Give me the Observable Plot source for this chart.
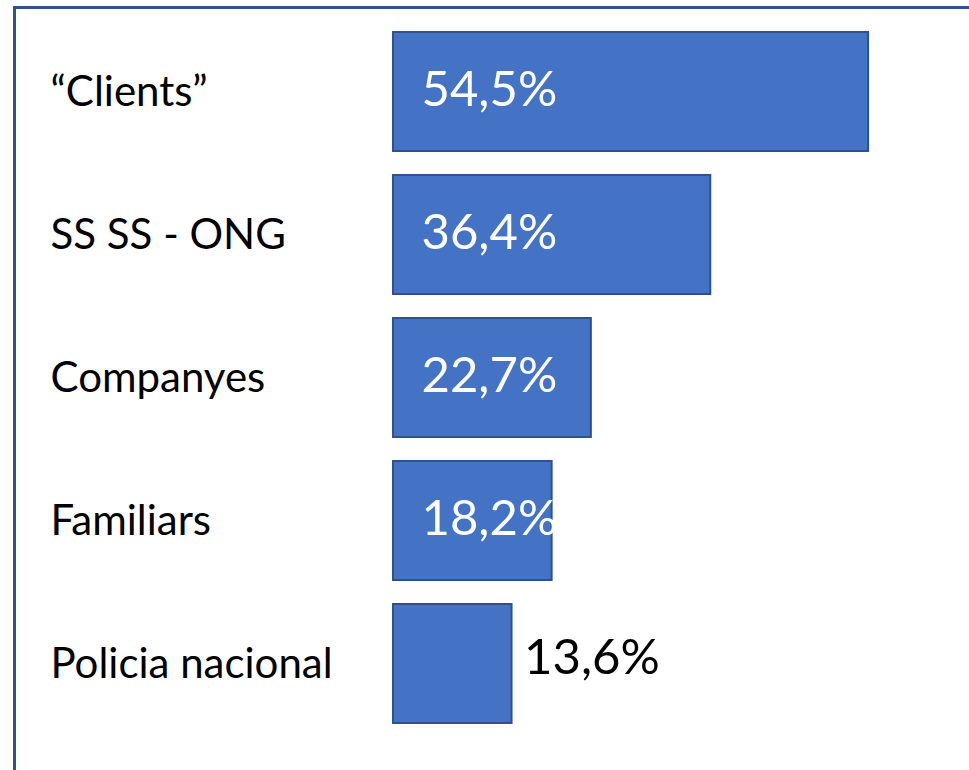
<!DOCTYPE html>
<html>
<head>
<meta charset="utf-8">
<script src="https://cdn.jsdelivr.net/npm/d3@7"></script>
<script src="https://cdn.jsdelivr.net/npm/@observablehq/plot@0.6"></script>
<style>
  html, body { margin: 0; padding: 0; background: #fff; }
  #wrap { position: relative; width: 969px; height: 770px; overflow: hidden; }
  #border { position: absolute; left: 13px; top: 6px; right: -10px; bottom: -10px;
            border-left: 3px solid #2F528F; border-top: 3px solid #2F528F; }
  #chart { position: absolute; left: 0; top: 0; }
</style>
</head>
<body>
<div id="wrap"><div id="border"></div><div id="chart"></div></div>
<script>
const categories = ["\u201CClients\u201D", "SS SS - ONG", "Companyes", "Familiars", "Policia nacional"];
const values = [54.5, 36.4, 22.7, 18.2, 13.6];

const data = categories.map((c, i) => ({category: c, value: values[i]}));
const fmt = v => v.toFixed(1).replace(".", ",") + "%";
const inside = data.filter(d => d.value > 15);
const outside = data.filter(d => d.value <= 15);

const chart = Plot.plot({
  width: 969,
  height: 770,
  marginLeft: 393,
  marginRight: 53,
  marginTop: 19,
  marginBottom: 34,
  style: {fontFamily: "Lato, sans-serif", background: "transparent"},
  x: {domain: [0, 60], axis: null},
  y: {domain: categories, paddingInner: 0.17, paddingOuter: 0.085, axis: null},
  marks: [
    Plot.barX(data, {y: "category", x: "value", fill: "#4472C4", stroke: "#2F528F", strokeWidth: 2}),
    Plot.text(data, {y: "category", text: "category", frameAnchor: "left", dx: -343,
      textAnchor: "start", fontSize: 42, fill: "#000", dy: 1}),
    Plot.text(inside, {y: "category", x: 0, text: d => fmt(d.value), dx: 28,
      textAnchor: "start", fontSize: 49, fill: "#fff", dy: -2}),
    Plot.text(outside, {y: "category", x: "value", text: d => fmt(d.value), dx: 12,
      textAnchor: "start", fontSize: 49, fill: "#000", dy: -6})
  ]
});
document.getElementById("chart").appendChild(chart);
</script>
</body>
</html>
